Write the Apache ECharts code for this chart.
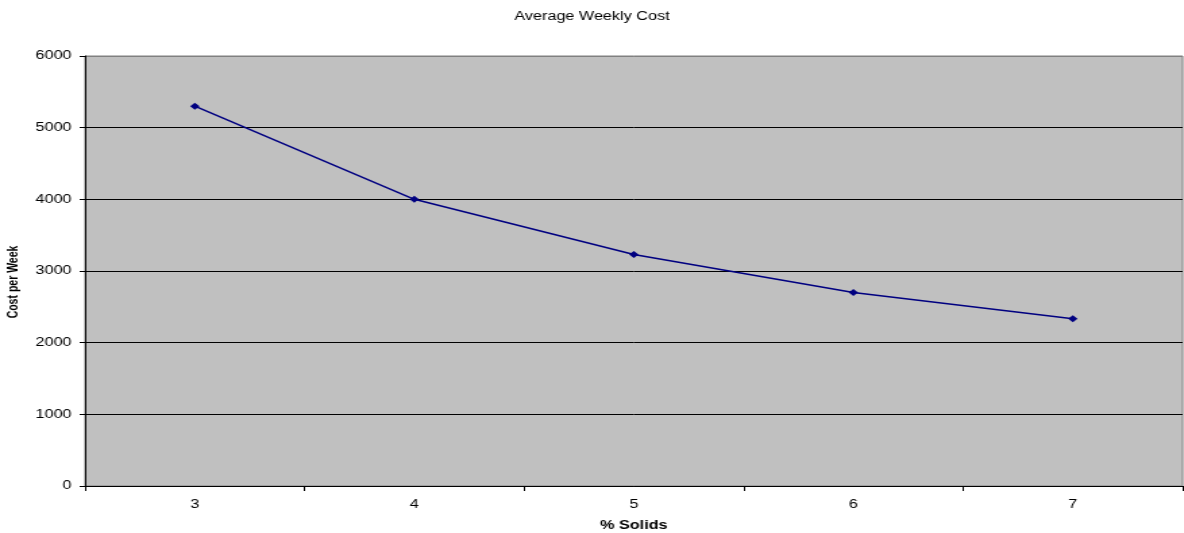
<!DOCTYPE html>
<html>
<head>
<meta charset="utf-8">
<script src="https://cdn.jsdelivr.net/npm/echarts@6/dist/echarts.min.js"></script>
<style>
  html, body { margin: 0; padding: 0; background: #fff; overflow: hidden; }
  #wrap { width: 1184px; height: 533px; overflow: hidden; }
  /* the chart is laid out narrower and widened to the full page width */
  #chart { width: 877px; height: 533px; transform: scaleX(1.35); transform-origin: 0 0; }
</style>
</head>
<body>
<div id="wrap"><div id="chart"></div></div>
<script>
// Percent solids in the feed
const solids = ['3', '4', '5', '6', '7'];
// Average cost per week at each solids level
const costPerWeek = [5300, 4000, 3230, 2700, 2335];
// Value axis range
const yMin = 0;
const yMax = 6000;
const yStep = 1000;

const FONT = 'Liberation Sans, Arial, sans-serif';

const chart = echarts.init(document.getElementById('chart'));
chart.setOption({
  animation: false,
  backgroundColor: '#ffffff',
  title: {
    text: 'Average Weekly Cost',
    left: 'center',
    top: 6,
    textStyle: { fontFamily: FONT, fontSize: 12, fontWeight: 'normal', color: '#000' }
  },
  grid: {
    left: 63, right: 1, top: 56, bottom: 47,
    outerBoundsMode: 'none',
    containLabel: false,
    show: true,
    backgroundColor: '#c0c0c0',
    borderColor: '#808080',
    borderWidth: 1
  },
  xAxis: {
    type: 'category',
    data: solids,
    boundaryGap: true,
    name: '% Solids',
    nameLocation: 'middle',
    nameGap: 34,
    nameTextStyle: { fontFamily: FONT, fontSize: 12, fontWeight: 'bold', color: '#000' },
    axisLine: { lineStyle: { color: '#000', width: 1 } },
    axisTick: { show: true, length: 5, lineStyle: { color: '#000' } },
    axisLabel: { fontFamily: FONT, fontSize: 12, color: '#000', margin: 13 },
    splitLine: { show: false }
  },
  yAxis: {
    type: 'value',
    min: yMin,
    max: yMax,
    interval: yStep,
    name: 'Cost per Week',
    nameLocation: 'middle',
    nameGap: 42,
    nameTextStyle: {
      fontFamily: FONT, fontSize: 10.5, fontWeight: 'bold', color: '#000',
      padding: [0, 22, 0, 0]
    },
    axisLine: { show: true, lineStyle: { color: '#000', width: 1 } },
    axisTick: { show: true, length: 4, lineStyle: { color: '#000' } },
    axisLabel: {
      fontFamily: FONT, fontSize: 12, color: '#000', margin: 10,
      formatter: (v) => String(v)
    },
    splitLine: {
      show: true,
      lineStyle: { color: ['#000', '#000', '#000', '#000', '#000', '#000', '#808080'], width: 1 }
    }
  },
  series: [{
    type: 'line',
    data: costPerWeek,
    symbol: 'diamond',
    symbolSize: 7,
    lineStyle: { color: '#000080', width: 1.5 },
    itemStyle: { color: '#000080' }
  }]
});
</script>
</body>
</html>
